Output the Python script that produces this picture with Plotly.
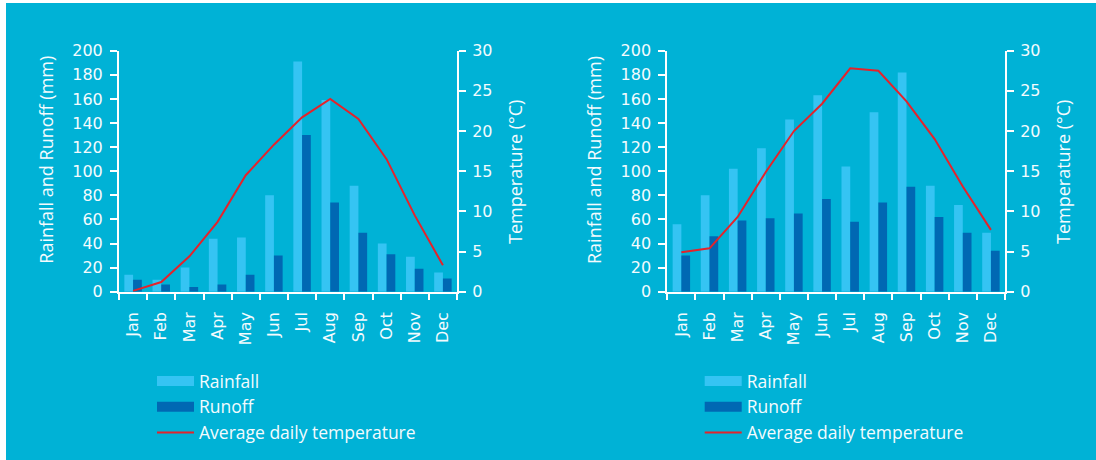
import plotly.graph_objects as go

months = ["Jan", "Feb", "Mar", "Apr", "May", "Jun", "Jul", "Aug", "Sep", "Oct", "Nov", "Dec"]
left_rainfall = [14, 10, 20, 44, 45, 80, 191, 159, 88, 40, 29, 16]
left_runoff = [10, 6, 4, 6, 14, 30, 130, 74, 49, 31, 19, 11]
left_temp = [0.1, 1.2, 4.4, 8.7, 14.5, 18.3, 21.7, 24.0, 21.5, 16.5, 9.5, 3.3]
right_rainfall = [56, 80, 102, 119, 143, 163, 104, 149, 182, 88, 72, 49]
right_runoff = [30, 46, 59, 61, 65, 77, 58, 74, 87, 62, 49, 34]
right_temp = [4.9, 5.4, 9.3, 14.9, 20.0, 23.4, 27.8, 27.5, 23.7, 19.0, 13.1, 7.7]
mm_ticks = list(range(0, 201, 20))
temp_ticks = list(range(0, 31, 5))
boundaries = [i - 0.5 for i in range(len(months) + 1)]

BG = "#00B2D6"
LIGHT = "#35C4F3"
DARK = "#0068B3"
RED = "#E4232B"
WHITE = "#FFFFFF"
TXT = "#F4FBFE"
TICKFONT = dict(family="DejaVu Sans", size=16, color=TXT)
TEXTFONT = "Open Sans"

W, H = 1096, 460
fig = go.Figure()


def add_chart(rain, runoff, temp, xa, ya, y2, legend):
    fig.add_trace(go.Bar(x=months, y=rain, name="Rainfall", marker=dict(color=LIGHT, line=dict(width=0)),
                         xaxis=xa, yaxis=ya, showlegend=False))
    fig.add_trace(go.Bar(x=months, y=runoff, name="Runoff", marker=dict(color=DARK, line=dict(width=0)),
                         xaxis=xa, yaxis=ya, showlegend=False))
    # legend entries (rectangular swatches)
    fig.add_trace(go.Scatter(x=[None], y=[None], mode="lines", name="Rainfall", line=dict(color=LIGHT, width=10),
                             xaxis=xa, yaxis=ya, legend=legend))
    fig.add_trace(go.Scatter(x=[None], y=[None], mode="lines", name="Runoff", line=dict(color=DARK, width=10),
                             xaxis=xa, yaxis=ya, legend=legend))
    fig.add_trace(go.Scatter(x=months, y=temp, mode="lines", name="Average daily temperature",
                             line=dict(color=RED, width=2), xaxis=xa, yaxis=y2, legend=legend))


add_chart(left_rainfall, left_runoff, left_temp, "x", "y", "y2", "legend")
add_chart(right_rainfall, right_runoff, right_temp, "x3", "y5", "y6", "legend2")

ydom = [(H - 291.7) / H, (H - 50.7) / H]
common = dict(showgrid=False, zeroline=False, automargin=False, fixedrange=True)


def axes_set(xn, xon, yn, y2n, yon, y2on, xdom):
    xid = "x" + ("" if xn == 1 else str(xn))
    yid = "y" + ("" if yn == 1 else str(yn))
    lay = {}
    lay["xaxis" + ("" if xn == 1 else str(xn))] = dict(
        domain=xdom, anchor=yid, type="category", categoryarray=months, range=[-0.5, 11.5],
        tickson="boundaries", ticks="outside", ticklen=6, tickwidth=2, tickcolor=WHITE,
        showline=True, linecolor=WHITE, linewidth=2, tickangle=-90, tickfont=TICKFONT,
        ticklabelstandoff=12, **common)
    lay["xaxis" + str(xon)] = dict(
        overlaying=xid, anchor=yid, type="linear", range=[-0.5, 11.5], tickvals=boundaries,
        ticks="inside", ticklen=5, tickwidth=2, tickcolor=WHITE, showticklabels=False, showline=False, **common)
    lay["yaxis" + ("" if yn == 1 else str(yn))] = dict(
        domain=ydom, anchor=xid, range=[0, 200], tickvals=mm_ticks, ticks="outside", ticklen=7,
        tickwidth=2, tickcolor=WHITE, showline=True, linecolor=WHITE, linewidth=2, tickfont=TICKFONT,
        ticklabelstandoff=4, **common)
    lay["yaxis" + str(yon)] = dict(
        overlaying=yid, anchor=xid, range=[0, 200], tickvals=mm_ticks, ticks="inside", ticklen=7,
        tickwidth=2, tickcolor=WHITE, showticklabels=False, showline=False, **common)
    lay["yaxis" + str(y2n)] = dict(
        overlaying=yid, anchor=xid, side="right", range=[0, 30], tickvals=temp_ticks, ticks="outside",
        ticklen=7, tickwidth=2, tickcolor=WHITE, showline=True, linecolor=WHITE, linewidth=2,
        tickfont=TICKFONT, ticklabelstandoff=3, **common)
    lay["yaxis" + str(y2on)] = dict(
        overlaying=yid, anchor=xid, side="right", range=[0, 30], tickvals=temp_ticks, ticks="inside",
        ticklen=7, tickwidth=2, tickcolor=WHITE, showticklabels=False, showline=False, **common)
    return lay


layout = {}
layout.update(axes_set(1, 2, 1, 2, 3, 4, [119 / W, 457 / W]))
layout.update(axes_set(3, 4, 5, 6, 7, 8, [667.3 / W, 1005 / W]))

legend_common = dict(xanchor="left", yanchor="top", bgcolor="rgba(0,0,0,0)", borderwidth=0,
                     font=dict(family=TEXTFONT, size=17.5, color=TXT), tracegroupgap=0, itemwidth=37,
                     itemclick=False, itemdoubleclick=False, traceorder="normal")

title_font = dict(family=TEXTFONT, size=18, color=TXT)
annotations = [
    dict(text="Rainfall and Runoff (mm)", x=45.7 / W, y=(H - 160) / H, xref="paper", yref="paper",
         textangle=-90, showarrow=False, font=title_font, xanchor="center", yanchor="middle"),
    dict(text="Temperature (°C)", x=515 / W, y=(H - 172) / H, xref="paper", yref="paper",
         textangle=-90, showarrow=False, font=title_font, xanchor="center", yanchor="middle"),
    dict(text="Rainfall and Runoff (mm)", x=594 / W, y=(H - 160) / H, xref="paper", yref="paper",
         textangle=-90, showarrow=False, font=title_font, xanchor="center", yanchor="middle"),
    dict(text="Temperature (°C)", x=1063 / W, y=(H - 172) / H, xref="paper", yref="paper",
         textangle=-90, showarrow=False, font=title_font, xanchor="center", yanchor="middle"),
]

fig.update_layout(
    width=W, height=H, margin=dict(l=0, r=0, t=0, b=0, pad=0),
    template="none",
    paper_bgcolor=WHITE, plot_bgcolor="rgba(0,0,0,0)",
    barmode="group", bargap=0.38, bargroupgap=0,
    showlegend=True, hovermode=False,
    legend=dict(x=152 / W, y=(H - 363) / H, **legend_common),
    legend2=dict(x=699.7 / W, y=(H - 363) / H, **legend_common),
    shapes=[dict(type="rect", xref="paper", yref="paper", x0=6 / W, x1=1, y0=0, y1=(H - 3) / H,
                 fillcolor=BG, line=dict(width=0), layer="below")],
    annotations=annotations,
    **layout,
)

fig.write_html("out.html", config={"displayModeBar": False},
               post_script="document.body.style.margin='0';")
